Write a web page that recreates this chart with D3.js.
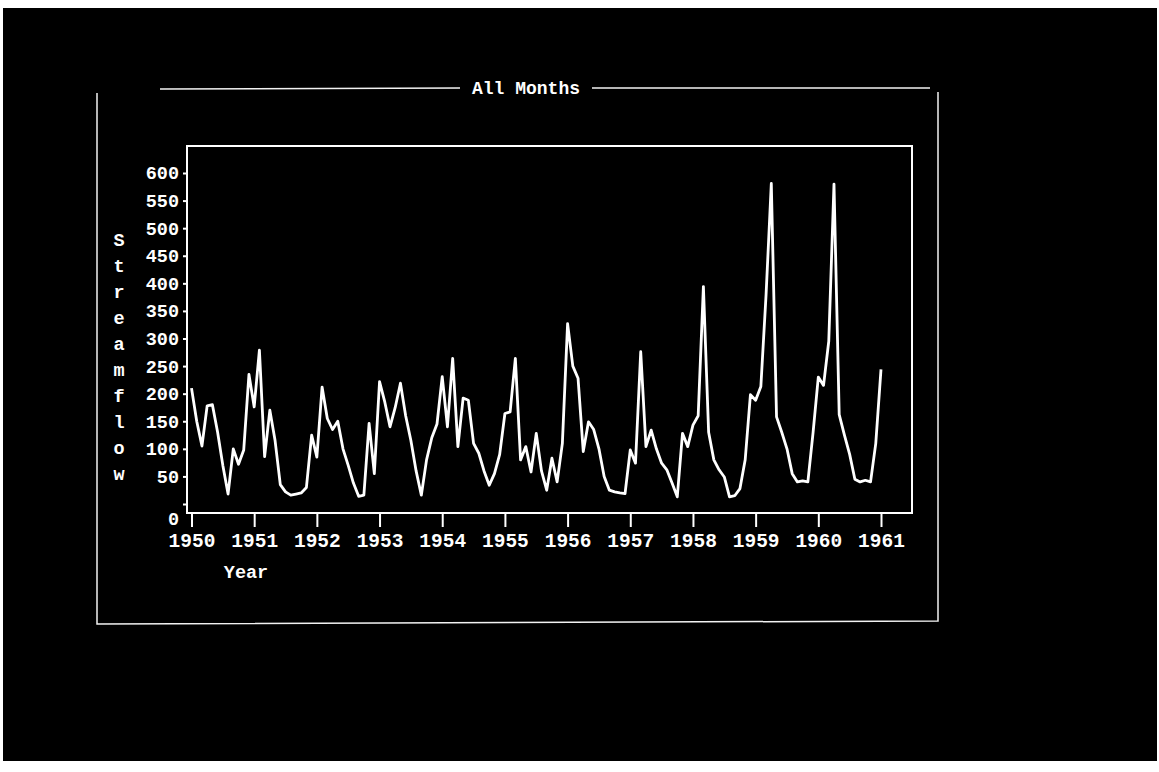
<!DOCTYPE html>
<html>
<head>
<meta charset="utf-8">
<script src="https://cdn.jsdelivr.net/npm/d3@7"></script>
<style>
  html, body { margin: 0; padding: 0; background: #ffffff; }
  svg { display: block; }
  text { font-family: "Liberation Mono", "DejaVu Sans Mono", monospace; font-weight: bold; fill: #ffffff; }
</style>
</head>
<body>
<svg id="chart" width="1159" height="772"></svg>
<script>
// ---- data (monthly streamflow, Jan 1950 .. Jan 1961) ----
const startYear = 1950;
const xTickYears = [1950, 1951, 1952, 1953, 1954, 1955, 1956, 1957, 1958, 1959, 1960, 1961];
const yTickValues = [0, 50, 100, 150, 200, 250, 300, 350, 400, 450, 500, 550, 600];
const titleText = "All Months";
const xLabel = "Year";
const yLabel = "Streamflow";
const streamflow = [
  // 1950
  210, 150, 105, 178, 180, 130, 70, 18, 100, 72, 98, 235,
  // 1951
  176, 279, 86, 170, 115, 35, 22, 16, 18, 20, 30, 125,
  // 1952
  85, 212, 155, 135, 150, 100, 70, 38, 14, 16, 146, 55,
  // 1953
  222, 185, 140, 175, 219, 160, 115, 60, 16, 80, 120, 145,
  // 1954
  231, 140, 264, 104, 192, 188, 110, 92, 60, 34, 55, 90,
  // 1955
  164, 167, 264, 80, 104, 58, 128, 60, 25, 83, 40, 110,
  // 1956
  327, 250, 228, 95, 149, 135, 100, 50, 25, 22, 20, 19,
  // 1957
  98, 74, 276, 104, 134, 100, 74, 62, 38, 13, 128, 104,
  // 1958
  143, 160, 394, 130, 80, 62, 49, 13, 15, 28, 80, 198,
  // 1959
  188, 213, 380, 581, 158, 130, 100, 55, 40, 42, 40, 130,
  // 1960
  230, 215, 295, 580, 162, 125, 90, 45, 40, 43, 40, 110,
  // 1961
  244
];

const svg = d3.select("#chart");

// photographed screen (black)
svg.append("rect").attr("x", 3).attr("y", 8).attr("width", 1154).attr("height", 753).attr("fill", "#000");

// outer window frame
const outer = svg.append("g").attr("stroke", "#f2f2f2").attr("stroke-width", 1.5).attr("fill", "none");
outer.append("path").attr("d", "M97,93 L97,624 L938,621 L938,92");
outer.append("line").attr("x1", 160).attr("y1", 89).attr("x2", 460).attr("y2", 88);
outer.append("line").attr("x1", 592).attr("y1", 88).attr("x2", 930).attr("y2", 88);
svg.append("text").attr("x", 526).attr("y", 88).attr("dy", "0.35em")
  .attr("text-anchor", "middle").attr("font-size", 18).text(titleText);

// plot area
const plot = { left: 187, right: 912, top: 146, bottom: 513 };
const x = d3.scaleLinear().domain([1950, 1961]).range([191.5, 881]);
const y = d3.scaleLinear().domain([0, 600]).range([504, 173]);

svg.append("rect")
  .attr("x", plot.left).attr("y", plot.top)
  .attr("width", plot.right - plot.left).attr("height", plot.bottom - plot.top)
  .attr("fill", "none").attr("stroke", "#fff").attr("stroke-width", 2);

// x axis
const xAxis = d3.axisBottom(x).tickValues(xTickYears).tickFormat(d3.format("d"))
  .tickSize(14).tickPadding(6);
const gx = svg.append("g").attr("transform", `translate(0,${plot.bottom})`).call(xAxis);
gx.select(".domain").remove();
gx.selectAll(".tick line").attr("stroke", "#fff").attr("stroke-width", 2);
gx.selectAll(".tick text").attr("fill", "#fff").attr("font-size", 19.5)
  .attr("font-family", "Liberation Mono, DejaVu Sans Mono, monospace").attr("font-weight", "bold");

// y axis
const yAxis = d3.axisLeft(y).tickValues(yTickValues).tickFormat(d3.format("d"))
  .tickSize(4).tickPadding(4);
const gy = svg.append("g").attr("transform", `translate(${plot.left},0)`).call(yAxis);
gy.select(".domain").remove();
gy.selectAll(".tick line").attr("stroke", "#fff").attr("stroke-width", 2);
gy.selectAll(".tick text").attr("fill", "#fff").attr("font-size", 18.5)
  .attr("font-family", "Liberation Mono, DejaVu Sans Mono, monospace").attr("font-weight", "bold");
gy.selectAll(".tick").filter(d => d === 0).select("text").attr("dy", "1.1em");

// axis titles
svg.append("text").attr("x", 246).attr("y", 572).attr("dy", "0.35em")
  .attr("text-anchor", "middle").attr("font-size", 18.5).text(xLabel);
svg.append("g").selectAll("text").data(yLabel.split(""))
  .join("text")
  .attr("x", 119)
  .attr("y", (d, i) => 240 + i * 25.9)
  .attr("dy", "0.35em")
  .attr("text-anchor", "middle").attr("font-size", 18.5)
  .text(d => d);

// streamflow line
const line = d3.line()
  .x((d, i) => x(startYear + i / 12))
  .y(d => y(d));
svg.append("path").datum(streamflow)
  .attr("d", line)
  .attr("fill", "none").attr("stroke", "#fff").attr("stroke-width", 2.8)
  .attr("stroke-linejoin", "round");
</script>
</body>
</html>
